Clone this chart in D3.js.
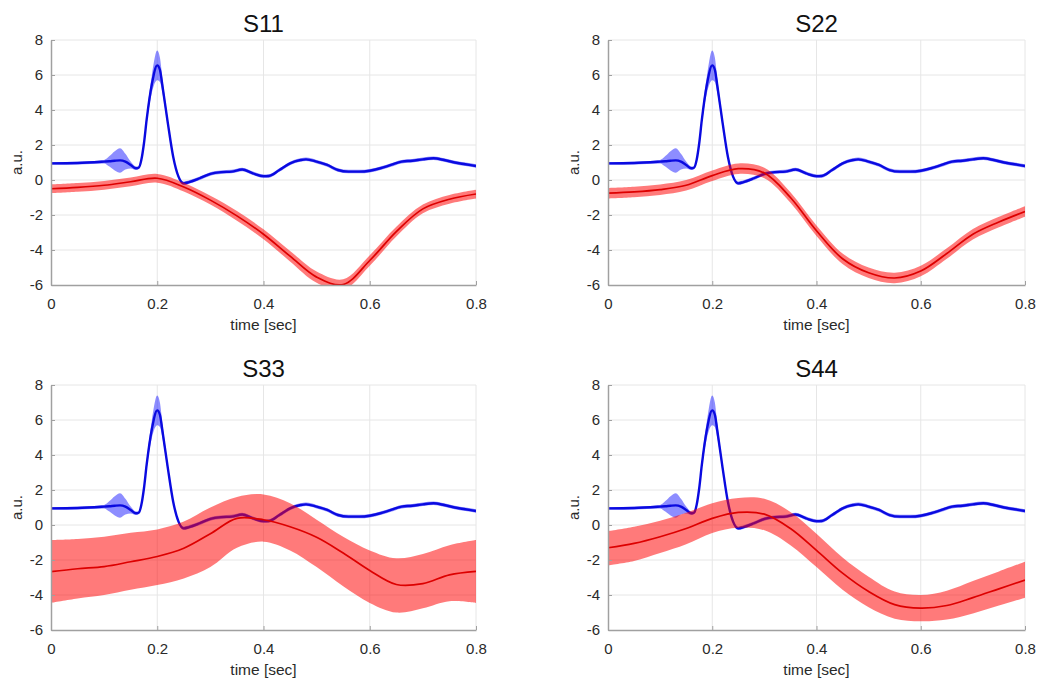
<!DOCTYPE html>
<html>
<head>
<meta charset="utf-8">
<script src="https://cdn.jsdelivr.net/npm/d3@7"></script>
<style>
  html, body { margin: 0; padding: 0; background: #fff; }
  svg { display: block; font-family: "Liberation Sans", Arial, Helvetica, sans-serif; }
</style>
</head>
<body>
<svg id="chart" width="1052" height="686"></svg>
<script>
// ---------- DATA ----------
const panelTitles = ["S11", "S22", "S33", "S44"];
const xTicks = [0, 0.2, 0.4, 0.6, 0.8];
const xTickLabels = ["0", "0.2", "0.4", "0.6", "0.8"];
const yTicks = [-6, -4, -2, 0, 2, 4, 6, 8];
const yTickLabels = ["-6", "-4", "-2", "0", "2", "4", "6", "8"];

// Blue (reference ECG-like) trace, identical in every panel
const blueTime = [0,0.05,0.1,0.11,0.12,0.13,0.14,0.15,0.16,0.165,0.17,0.175,0.18,0.19,0.2,0.205,0.21,0.22,0.23,0.24,0.25,0.26,0.28,0.3,0.32,0.34,0.36,0.38,0.4,0.41,0.43,0.45,0.47,0.48,0.5,0.52,0.54,0.56,0.58,0.6,0.62,0.64,0.66,0.68,0.7,0.72,0.74,0.76,0.78,0.8];
const blueMean = [0.95,0.97,1.05,1.07,1.1,1.12,1.05,0.86,0.67,0.7,1.14,2.1,3.43,5.5,6.55,6.3,5.33,3.24,1.33,0.19,-0.19,-0.12,0.1,0.35,0.45,0.48,0.6,0.38,0.22,0.23,0.57,0.95,1.14,1.18,1.05,0.86,0.57,0.48,0.48,0.53,0.67,0.86,1.05,1.1,1.18,1.24,1.14,1.0,0.9,0.8];
const blueSpread = [0.08,0.08,0.1,0.3,0.55,0.7,0.45,0.2,0.1,0.08,0.1,0.15,0.25,0.5,0.85,0.7,0.4,0.2,0.12,0.1,0.1,0.1,0.1,0.1,0.1,0.1,0.1,0.1,0.1,0.1,0.1,0.1,0.1,0.1,0.1,0.1,0.1,0.1,0.1,0.1,0.1,0.1,0.1,0.1,0.1,0.1,0.1,0.1,0.1,0.1];

// Red traces (one per panel): mean, upper and lower band
const redTime = [0,0.05,0.1,0.15,0.2,0.25,0.3,0.35,0.4,0.45,0.5,0.55,0.6,0.65,0.7,0.75,0.8];

const s11Mean  = [-0.5,-0.42,-0.3,-0.1,0.1,-0.4,-1.15,-2.05,-3.1,-4.35,-5.55,-5.97,-4.6,-2.95,-1.65,-1.1,-0.8];
const s11Upper = [-0.25,-0.17,-0.05,0.15,0.35,-0.15,-0.9,-1.77,-2.82,-4.05,-5.23,-5.67,-4.3,-2.67,-1.4,-0.85,-0.55];
const s11Lower = [-0.75,-0.67,-0.55,-0.35,-0.15,-0.65,-1.4,-2.33,-3.38,-4.65,-5.87,-6.27,-4.9,-3.23,-1.9,-1.35,-1.05];

const s22Mean  = [-0.75,-0.68,-0.55,-0.3,0.25,0.65,0.4,-1.0,-2.9,-4.5,-5.3,-5.6,-5.2,-4.2,-3.1,-2.4,-1.8];
const s22Upper = [-0.45,-0.38,-0.25,0.0,0.55,0.95,0.7,-0.7,-2.6,-4.2,-5.0,-5.3,-4.9,-3.9,-2.8,-2.1,-1.5];
const s22Lower = [-1.05,-0.98,-0.85,-0.6,-0.05,0.35,0.1,-1.3,-3.2,-4.8,-5.6,-5.9,-5.5,-4.5,-3.4,-2.7,-2.1];

const s33Mean  = [-2.67,-2.5,-2.38,-2.1,-1.8,-1.33,-0.5,0.38,0.3,-0.1,-0.7,-1.6,-2.6,-3.4,-3.35,-2.85,-2.65];
const s33Upper = [-0.86,-0.8,-0.67,-0.44,-0.25,0.2,1.0,1.6,1.75,1.25,0.3,-0.67,-1.45,-1.9,-1.65,-1.15,-0.86];
const s33Lower = [-4.45,-4.2,-4.0,-3.7,-3.43,-3.05,-2.4,-1.3,-0.95,-1.45,-2.4,-3.5,-4.45,-5.0,-4.75,-4.35,-4.45];

const s44Mean  = [-1.3,-1.05,-0.67,-0.2,0.38,0.72,0.62,-0.2,-1.45,-2.75,-3.8,-4.55,-4.75,-4.6,-4.15,-3.65,-3.15];
const s44Upper = [-0.35,-0.1,0.25,0.7,1.25,1.55,1.5,0.75,-0.5,-1.85,-2.95,-3.8,-4.0,-3.75,-3.2,-2.65,-2.1];
const s44Lower = [-2.3,-2.05,-1.6,-1.1,-0.45,-0.15,-0.3,-1.15,-2.4,-3.7,-4.7,-5.35,-5.5,-5.4,-5.05,-4.6,-4.15];

const redSeries = [
  { mean: s11Mean, upper: s11Upper, lower: s11Lower },
  { mean: s22Mean, upper: s22Upper, lower: s22Lower },
  { mean: s33Mean, upper: s33Upper, lower: s33Lower },
  { mean: s44Mean, upper: s44Upper, lower: s44Lower }
];

// ---------- LAYOUT ----------
const panels = [
  { left: 51,  right: 476,  top: 40,  bottom: 285 },
  { left: 608, right: 1025, top: 40,  bottom: 285 },
  { left: 51,  right: 476,  top: 385, bottom: 630 },
  { left: 608, right: 1025, top: 385, bottom: 630 }
];

const svg = d3.select("#chart");
const axisGray = "#a0a0a0";
const gridGray = "#e6e6e6";
const textCol = "#2a2a2a";
const fontFam = "'Liberation Sans', Arial, sans-serif";

const blueRows = blueTime.map((t, i) => ({ t, m: blueMean[i], lo: blueMean[i] - blueSpread[i], hi: blueMean[i] + blueSpread[i] }));

panels.forEach((p, idx) => {
  const x = d3.scaleLinear().domain([0, 0.8]).range([p.left, p.right]);
  const y = d3.scaleLinear().domain([-6, 8]).range([p.bottom, p.top]);
  const g = svg.append("g");

  const clipId = "clip" + idx;
  g.append("clipPath").attr("id", clipId)
    .append("rect").attr("x", p.left).attr("y", p.top)
    .attr("width", p.right - p.left).attr("height", p.bottom - p.top);

  // grid
  g.append("g").selectAll("line").data(xTicks.slice(1)).join("line")
    .attr("x1", d => x(d)).attr("x2", d => x(d))
    .attr("y1", p.top).attr("y2", p.bottom)
    .attr("stroke", gridGray).attr("stroke-width", 1);
  g.append("g").selectAll("line").data(yTicks.slice(1)).join("line")
    .attr("x1", p.left).attr("x2", p.right)
    .attr("y1", d => y(d)).attr("y2", d => y(d))
    .attr("stroke", gridGray).attr("stroke-width", 1);

  const plot = g.append("g").attr("clip-path", `url(#${clipId})`);

  // blue band + line
  plot.append("path").datum(blueRows)
    .attr("d", d3.area().x(d => x(d.t)).y0(d => y(d.lo)).y1(d => y(d.hi)).curve(d3.curveMonotoneX))
    .attr("fill", "#3030ff").attr("fill-opacity", 0.55);
  plot.append("path").datum(blueRows)
    .attr("d", d3.line().x(d => x(d.t)).y(d => y(d.m)).curve(d3.curveMonotoneX))
    .attr("fill", "none").attr("stroke", "#0a0ae0").attr("stroke-width", 2.4)
    .attr("stroke-linejoin", "round");

  // red band + line
  const rs = redSeries[idx];
  const redRows = redTime.map((t, i) => ({ t, m: rs.mean[i], lo: rs.lower[i], hi: rs.upper[i] }));
  const smooth = d3.curveCatmullRom.alpha(0.5);
  plot.append("path").datum(redRows)
    .attr("d", d3.area().x(d => x(d.t)).y0(d => y(d.lo)).y1(d => y(d.hi)).curve(smooth))
    .attr("fill", "#ff0000").attr("fill-opacity", 0.52);
  plot.append("path").datum(redRows)
    .attr("d", d3.line().x(d => x(d.t)).y(d => y(d.m)).curve(smooth))
    .attr("fill", "none").attr("stroke", "#dd0000").attr("stroke-width", 1.7);

  // axes
  const xAxis = d3.axisBottom(x).tickValues(xTicks).tickFormat((d, i) => xTickLabels[i])
    .tickSizeInner(-4).tickSizeOuter(0).tickPadding(10);
  const yAxis = d3.axisLeft(y).tickValues(yTicks).tickFormat((d, i) => yTickLabels[i])
    .tickSizeInner(-4).tickSizeOuter(0).tickPadding(8);

  const gx = g.append("g").attr("transform", `translate(0,${p.bottom})`).call(xAxis);
  const gy = g.append("g").attr("transform", `translate(${p.left},0)`).call(yAxis);
  [gx, gy].forEach(a => {
    a.select(".domain").attr("stroke", axisGray).attr("stroke-width", 1.5);
    a.selectAll(".tick line").attr("stroke", axisGray);
    a.selectAll(".tick text").attr("fill", textCol).attr("font-size", 15)
      .attr("font-family", fontFam);
  });
  gx.selectAll(".tick text").attr("dy", "0.9em");

  // title
  g.append("text").attr("x", (p.left + p.right) / 2).attr("y", p.top - 8)
    .attr("text-anchor", "middle").attr("font-size", 24).attr("fill", "#111")
    .attr("font-family", fontFam)
    .text(panelTitles[idx]);

  // x label
  g.append("text").attr("x", (p.left + p.right) / 2).attr("y", p.bottom + 45)
    .attr("text-anchor", "middle").attr("font-size", 15.5).attr("fill", textCol)
    .attr("font-family", fontFam)
    .text("time [sec]");

  // y label
  g.append("text")
    .attr("transform", `translate(${p.left - 29},${(p.top + p.bottom) / 2}) rotate(-90)`)
    .attr("text-anchor", "middle").attr("font-size", 15).attr("fill", textCol)
    .attr("font-family", fontFam)
    .text("a.u.");
});
</script>
</body>
</html>
